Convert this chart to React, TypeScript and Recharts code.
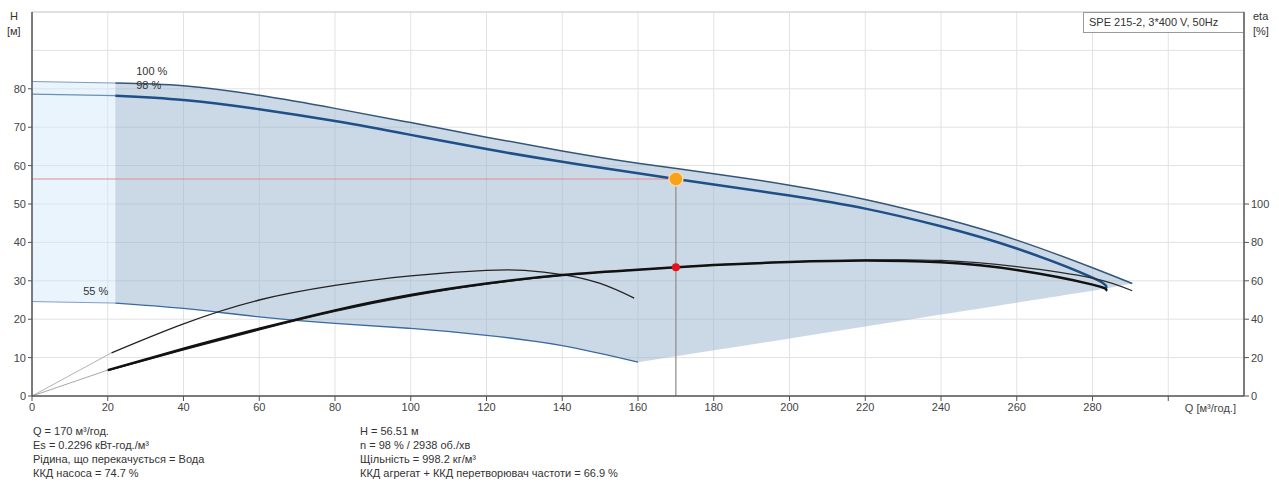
import React from "react"
import {
  ComposedChart,
  Line,
  Area,
  XAxis,
  YAxis,
  CartesianGrid,
  ReferenceLine,
  ReferenceDot,
} from "recharts"

// axes
const qTicks = [0, 20, 40, 60, 80, 100, 120, 140, 160, 180, 200, 220, 240, 260, 280, 300]
const hTicks = [0, 10, 20, 30, 40, 50, 60, 70, 80]
const hExtraGrid = [90, 100]
const etaTicks = [0, 20, 40, 60, 80, 100]

// Q-H curves (H, m)
const q100 = [0, 22, 40, 60, 80, 100, 120, 140, 160, 180, 200, 220, 240, 260, 280, 290.5]
const h100 = [81.9, 81.5, 80.8, 78.3, 74.9, 71.2, 67.4, 63.8, 60.6, 57.9, 54.9, 51.2, 46.4, 40.6, 33.4, 29.3]

const q98 = [0, 22, 40, 60, 80, 100, 120, 140, 160, 170, 180, 200, 220, 240, 260, 280, 283.5]
const h98 = [78.6, 78.2, 77.1, 74.7, 71.6, 68.0, 64.3, 61.0, 58.0, 56.5, 55.1, 52.2, 48.8, 44.2, 38.4, 30.8, 28.0]

const q55 = [0, 22, 40, 60, 80, 100, 120, 140, 160]
const h55 = [24.6, 24.2, 22.8, 20.6, 18.9, 17.6, 15.8, 13.1, 8.8]

// operating range, right part (lower edge runs from 55 % end to 98 % end)
const qEdge = [160, 180, 200, 220, 240, 260, 280, 283.5, 290.5]
const lowEdge = [8.8, 11.9, 15.0, 18.1, 21.2, 24.3, 27.4, 28.0, 29.3]
const highEdge = [60.6, 57.9, 54.9, 51.2, 46.4, 40.6, 33.4, 32.0, 29.3]

// efficiency curves (eta, %)
const qE98 = [0, 20, 40, 60, 80, 100, 120, 140, 160, 170, 180, 200, 220, 240, 260, 280, 283.5]
const e98 = [0, 13.5, 24.6, 35.0, 44.6, 52.6, 58.6, 63.0, 65.8, 67.0, 68.2, 69.8, 70.6, 69.6, 65.6, 58.0, 54.8]

const qE100 = [0, 20, 40, 60, 80, 100, 120, 140, 160, 180, 200, 220, 240, 260, 280, 290.5]
const e100 = [0, 13.2, 24.0, 34.4, 44.0, 52.0, 58.2, 62.8, 65.8, 68.2, 69.8, 70.8, 70.6, 67.4, 61.4, 54.8]

const qE55 = [0, 21, 40, 60, 80, 100, 120, 130, 140, 150, 159]
const e55 = [0, 22.5, 37.6, 50.0, 57.6, 62.6, 65.4, 65.4, 63.2, 58.6, 51.0]

// duty point
const dutyQ = 170
const dutyH = 56.51
const dutyEta = 67

const pts = (qs: number[], vs: number[]) => qs.map((q, i) => ({ q, v: vs[i] }))
const band = (qs: number[], lo: number[], hi: number[]) => qs.map((q, i) => ({ q, r: [lo[i], hi[i]] }))

const font = "'Liberation Sans', Arial, sans-serif"
const tickStyle = { fill: "#444", fontSize: 11, fontFamily: font }
const axisStyle = { stroke: "#555", strokeWidth: 1.5 }

const infoLeft = [
  "Q = 170 м³/год.",
  "Es = 0.2296 кВт-год./м³",
  "Рідина, що перекачується = Вода",
  "ККД насоса = 74.7 %",
]
const infoRight = [
  "H = 56.51 м",
  "n = 98 % / 2938 об./хв",
  "Щільність = 998.2 кг/м³",
  "ККД агрегат + ККД перетворювач частоти = 66.9 %",
]

const txt = (left: number, top: number): React.CSSProperties => ({
  position: "absolute",
  left,
  top,
  fontFamily: font,
  fontSize: 11,
  color: "#333",
  lineHeight: "14px",
  whiteSpace: "nowrap",
})

export default function App() {
  const lineProps = { type: "natural" as const, dataKey: "v", dot: false, activeDot: false, isAnimationActive: false }
  const areaProps = { yAxisId: "h", dataKey: "r", stroke: "none", isAnimationActive: false, activeDot: false }
  return (
    <div style={{ position: "absolute", left: 0, top: 0, width: 1279, height: 484, background: "#fff" }}>
      <ComposedChart width={1279} height={420} margin={{ top: 12, right: 0, bottom: 0, left: 0 }}>
        <CartesianGrid stroke="#e2e2e2" yAxisId="h" />
        <XAxis
          type="number"
          dataKey="q"
          domain={[0, 320]}
          ticks={qTicks}
          tickFormatter={(v: number) => (v >= 300 ? "" : String(v))}
          tick={tickStyle}
          tickSize={5}
          tickMargin={2}
          height={24}
          axisLine={axisStyle}
          tickLine={{ stroke: "#555" }}
          label={{ value: "Q [м³/год.]", position: "insideTopRight", offset: 8, fill: "#444", fontSize: 11, fontFamily: font }}
        />
        <YAxis
          yAxisId="h"
          type="number"
          domain={[0, 100]}
          ticks={hTicks}
          width={32}
          tick={tickStyle}
          tickSize={4}
          tickMargin={2}
          axisLine={axisStyle}
          tickLine={{ stroke: "#555" }}
        />
        <YAxis
          yAxisId="eta"
          orientation="right"
          type="number"
          domain={[0, 200]}
          ticks={etaTicks}
          width={35}
          tick={tickStyle}
          tickSize={5}
          tickMargin={2}
          axisLine={axisStyle}
          tickLine={{ stroke: "#555" }}
        />

        {hExtraGrid.map((v) => (
          <ReferenceLine key={v} yAxisId="h" y={v} stroke={v === 100 ? "#cfcfcf" : "#e2e2e2"} />
        ))}

        {/* operating ranges */}
        <Area {...areaProps} type="linear" data={band([0, 22], [h55[0], h55[1]], [h100[0], h100[1]])}
          fill="#d0e6fa" fillOpacity={0.45} />
        <Area {...areaProps} type="natural" data={band(q55.slice(1), h55.slice(1), h100.slice(1, 9))}
          fill="#98b3ce" fillOpacity={0.5} />
        <Area {...areaProps} type="natural" data={band(qEdge, lowEdge, highEdge)}
          fill="#98b3ce" fillOpacity={0.5} />

        {/* duty point guides */}
        <ReferenceLine yAxisId="h" segment={[{ x: 0, y: dutyH }, { x: dutyQ, y: dutyH }]} stroke="#e58a90" strokeWidth={1} />
        <ReferenceLine yAxisId="h" segment={[{ x: dutyQ, y: 0 }, { x: dutyQ, y: dutyH }]} stroke="#8a8a8a" strokeWidth={1.2} />

        {/* Q-H curves */}
        <Line {...lineProps} yAxisId="h" data={pts(q55.slice(0, 2), h55.slice(0, 2))} stroke="#7f9fc2" strokeWidth={1} />
        <Line {...lineProps} yAxisId="h" data={pts(q55.slice(1), h55.slice(1))} stroke="#3a6aa0" strokeWidth={1.3} />
        <Line {...lineProps} yAxisId="h" data={pts(q100.slice(0, 2), h100.slice(0, 2))} stroke="#7d9cbd" strokeWidth={1} />
        <Line {...lineProps} yAxisId="h" data={pts(q100.slice(1), h100.slice(1))} stroke="#33557a" strokeWidth={1.5} />
        <Line {...lineProps} yAxisId="h" data={pts(q98.slice(0, 2), h98.slice(0, 2))} stroke="#6c8fb6" strokeWidth={1.2} />
        <Line {...lineProps} yAxisId="h" data={pts(q98.slice(1), h98.slice(1))} stroke="#1e4f88" strokeWidth={2.5} />

        {/* efficiency curves */}
        <Line {...lineProps} yAxisId="eta" data={pts(qE55.slice(0, 2), e55.slice(0, 2))} stroke="#a0a0a0" strokeWidth={0.8} />
        <Line {...lineProps} yAxisId="eta" data={pts(qE98.slice(0, 2), e98.slice(0, 2))} stroke="#909090" strokeWidth={0.8} />
        <Line {...lineProps} yAxisId="eta" data={pts(qE55.slice(1), e55.slice(1))} stroke="#222" strokeWidth={1.3} />
        <Line {...lineProps} yAxisId="eta" data={pts(qE100.slice(1), e100.slice(1))} stroke="#2a2a2a" strokeWidth={1.2} />
        <Line {...lineProps} yAxisId="eta" data={pts(qE98.slice(1), e98.slice(1))} stroke="#111" strokeWidth={2.5} />

        {/* curve labels */}
        <ReferenceDot yAxisId="h" x={27.5} y={84.6} r={0} fill="none" stroke="none"
          label={{ value: "100 %", position: "right", offset: 0, fill: "#333", fontSize: 11, fontFamily: font }} />
        <ReferenceDot yAxisId="h" x={27.5} y={81} r={0} fill="none" stroke="none"
          label={{ value: "98 %", position: "right", offset: 0, fill: "#333", fontSize: 11, fontFamily: font }} />
        <ReferenceDot yAxisId="h" x={13.5} y={27.3} r={0} fill="none" stroke="none"
          label={{ value: "55 %", position: "right", offset: 0, fill: "#333", fontSize: 11, fontFamily: font }} />

        {/* duty point markers */}
        <ReferenceDot yAxisId="h" x={dutyQ} y={dutyH} r={7} fill="#f7a21b" stroke="#fcd9a4" strokeWidth={1.5} />
        <ReferenceDot yAxisId="eta" x={dutyQ} y={dutyEta} r={4} fill="#e5141b" stroke="none" />
      </ComposedChart>

      <div style={{ ...txt(8, 9), textAlign: "center", width: 12 }}>H</div>
      <div style={{ ...txt(7, 24) }}>[м]</div>
      <div style={{ ...txt(1253, 9) }}>eta</div>
      <div style={{ ...txt(1253, 24) }}>[%]</div>

      <div
        style={{
          position: "absolute",
          left: 1083,
          top: 12,
          width: 160,
          height: 21,
          boxSizing: "border-box",
          border: "1px solid #9a9a9a",
          borderRight: "none",
          background: "#fff",
          fontFamily: font,
          fontSize: 11,
          color: "#333",
          paddingLeft: 5,
          paddingTop: 2,
          lineHeight: "14px",
          whiteSpace: "nowrap",
        }}
      >
        SPE 215-2, 3*400 V, 50Hz
      </div>

      <div style={txt(33, 424)}>
        {infoLeft.map((s) => (
          <div key={s}>{s}</div>
        ))}
      </div>
      <div style={txt(360, 424)}>
        {infoRight.map((s) => (
          <div key={s}>{s}</div>
        ))}
      </div>
    </div>
  )
}
